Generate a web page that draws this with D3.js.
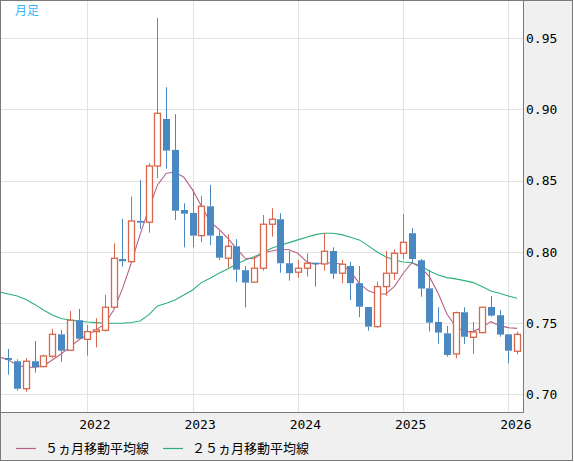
<!DOCTYPE html>
<html>
<head>
  <meta charset="utf-8">
  <script src="https://cdn.jsdelivr.net/npm/d3@7"></script>
  <style>
    body{margin:0;background:#fff;}
    svg{position:absolute;left:0;top:0;}
    .ax text{font-family:"DejaVu Sans Mono",monospace;font-size:13px;fill:#000;}
    .jp{font-family:"Noto Sans CJK JP",sans-serif;}
  </style>
</head>
<body>
<svg></svg>
<script type="text/javascript">
// monthly candles, 2021-03 .. 2026-02 (first month only feeds the moving averages)
var months = ["2021-03","2021-04","2021-05","2021-06","2021-07","2021-08","2021-09","2021-10","2021-11","2021-12",
  "2022-01","2022-02","2022-03","2022-04","2022-05","2022-06","2022-07","2022-08","2022-09","2022-10","2022-11","2022-12",
  "2023-01","2023-02","2023-03","2023-04","2023-05","2023-06","2023-07","2023-08","2023-09","2023-10","2023-11","2023-12",
  "2024-01","2024-02","2024-03","2024-04","2024-05","2024-06","2024-07","2024-08","2024-09","2024-10","2024-11","2024-12",
  "2025-01","2025-02","2025-03","2025-04","2025-05","2025-06","2025-07","2025-08","2025-09","2025-10","2025-11","2025-12",
  "2026-01","2026-02"];

var open = [null,0.7255,0.7232,0.7039,0.7232,0.7194,0.7267,0.7421,0.7309,0.7520,
  0.7386,0.7440,0.7449,0.7611,0.7950,0.7931,0.8217,0.8208,0.8603,0.8933,0.8716,0.8294,
  0.8273,0.8114,0.8320,0.8112,0.7955,0.8039,0.7871,0.7787,0.7885,0.8194,0.8229,0.7920,
  0.7857,0.7885,0.7924,0.7915,0.8006,0.7850,0.7901,0.7780,0.7613,0.7475,0.7756,0.7850,
  0.7990,0.8131,0.7941,0.7744,0.7508,0.7428,0.7283,0.7576,0.7400,0.7433,0.7613,0.7555,
  0.7421,0.7302];
var high = [null,0.7318,0.7246,0.7253,0.7374,0.7279,0.7459,0.7452,0.7585,0.7599,
  0.7487,0.7534,0.7697,0.8060,0.8231,0.8388,0.8505,0.8622,0.9643,0.9156,0.8966,0.8341,
  0.8435,0.8393,0.8470,0.8149,0.8124,0.8089,0.7901,0.7966,0.8259,0.8306,0.8271,0.8006,
  0.7943,0.7990,0.7924,0.8131,0.8032,0.7943,0.7931,0.7901,0.7613,0.7791,0.8008,0.8018,
  0.8266,0.8168,0.7950,0.7873,0.7611,0.7480,0.7580,0.7611,0.7508,0.7611,0.7690,0.7592,
  0.7421,0.7440];
var low = [null,0.7138,0.7025,0.7018,0.7152,0.7190,0.7255,0.7229,0.7309,0.7390,
  0.7271,0.7330,0.7440,0.7611,0.7896,0.7924,0.8161,0.8135,0.8517,0.8584,0.8224,0.8032,
  0.8032,0.8067,0.8048,0.7943,0.7889,0.7787,0.7611,0.7787,0.7868,0.8107,0.7854,0.7798,
  0.7819,0.7826,0.7756,0.7868,0.7810,0.7780,0.7662,0.7541,0.7447,0.7468,0.7692,0.7803,
  0.7948,0.7920,0.7685,0.7440,0.7355,0.7264,0.7253,0.7353,0.7283,0.7428,0.7545,0.7404,
  0.7218,0.7281];
var close = [null,0.7241,0.7039,0.7232,0.7190,0.7269,0.7421,0.7306,0.7520,0.7390,
  0.7440,0.7452,0.7611,0.7955,0.7934,0.8217,0.8205,0.8603,0.8973,0.8711,0.8289,0.8268,
  0.8114,0.8320,0.8114,0.7959,0.8039,0.7875,0.7784,0.7885,0.8194,0.8229,0.7920,0.7850,
  0.7885,0.7920,0.7915,0.8004,0.7847,0.7913,0.7780,0.7615,0.7475,0.7756,0.7850,0.7990,
  0.8067,0.7950,0.7742,0.7503,0.7433,0.7276,0.7573,0.7404,0.7437,0.7611,0.7552,0.7419,
  0.7306,0.7421];

// 5ヵ月 / 25ヵ月 moving averages
var ma5 = [0.7262,0.7241,0.7206,0.7190,0.7190,0.7199,0.7241,0.7283,0.7332,0.7381,
  0.7416,0.7452,0.7494,0.7592,0.7740,0.7920,0.8119,0.8299,0.8470,0.8552,0.8561,0.8524,
  0.8435,0.8322,0.8212,0.8159,0.8096,0.8025,0.7955,0.7952,0.7994,0.8006,0.8018,0.8015,
  0.7990,0.7931,0.7913,0.7922,0.7924,0.7913,0.7861,0.7780,0.7728,0.7704,0.7704,0.7756,
  0.7848,0.7924,0.7892,0.7826,0.7709,0.7564,0.7475,0.7440,0.7440,0.7470,0.7510,0.7482,
  0.7468,0.7463];
var ma25 = [0.7718,0.7704,0.7690,0.7666,0.7631,0.7592,0.7557,0.7532,0.7522,0.7515,
  0.7508,0.7503,0.7499,0.7499,0.7499,0.7504,0.7515,0.7557,0.7620,0.7639,0.7662,0.7697,
  0.7732,0.7784,0.7815,0.7850,0.7880,0.7913,0.7943,0.7965,0.7994,0.8025,0.8046,0.8065,
  0.8084,0.8103,0.8121,0.8131,0.8131,0.8121,0.8103,0.8084,0.8044,0.8001,0.7966,0.7943,
  0.7929,0.7924,0.7901,0.7866,0.7838,0.7819,0.7810,0.7798,0.7784,0.7756,0.7725,0.7709,
  0.7690,0.7674];

var yTicks = [0.70,0.75,0.80,0.85,0.90,0.95];
var legendNames = ["５ヵ月移動平均線","２５ヵ月移動平均線"];

var W = 574, H = 462;
var plotR = 523.5, plotB = 412.5;
var upCol = "#d8664a", downCol = "#4a88c2", ma5Col = "#b8628a", ma25Col = "#2db078";

var svg = d3.select("svg").attr("width", W).attr("height", H);

// outer panel
svg.append("rect").attr("x",0.5).attr("y",0.5).attr("width",572).attr("height",460)
  .attr("fill","#f0f0f0").attr("stroke","#7a7a7a");
svg.append("rect").attr("x",0.5).attr("y",0.5).attr("width",plotR-0.5).attr("height",plotB-0.5)
  .attr("fill","#fff");

var x = d3.scaleLinear().domain([0.1, 59.73]).range([0.5, plotR]);
var y = d3.scaleLinear().domain([0.6872, 0.9765]).range([plotB, 0.5]);

var janIdx = [];
months.forEach(function(m,i){ if (m.slice(5) === "01") janIdx.push(i); });

svg.append("clipPath").attr("id","plot").append("rect")
  .attr("x",0.5).attr("y",0.5).attr("width",plotR-0.5).attr("height",plotB-0.5);

// grid
var grid = svg.append("g").attr("stroke","#e2e2e2").attr("stroke-width",1);
grid.selectAll(".gy").data(yTicks).enter().append("line")
  .attr("x1",1).attr("x2",plotR).attr("y1",function(d){return Math.round(y(d))+0.5;})
  .attr("y2",function(d){return Math.round(y(d))+0.5;});
grid.selectAll(".gx").data(janIdx).enter().append("line")
  .attr("y1",1).attr("y2",plotB).attr("x1",function(d){return Math.round(x(d))+0.5;})
  .attr("x2",function(d){return Math.round(x(d))+0.5;});

var g = svg.append("g").attr("clip-path","url(#plot)");

// moving averages
function maLine(arr, col){
  var line = d3.line().x(function(d,i){return x(i);}).y(function(d){return y(d);});
  g.append("path").datum(arr).attr("d",line).attr("fill","none")
    .attr("stroke",col).attr("stroke-width",1.1);
}
maLine(ma25, ma25Col);
maLine(ma5, ma5Col);

// candles
var bw = 6;
var idx = d3.range(months.length).filter(function(i){return open[i] !== null;});
var c = g.selectAll(".c").data(idx).enter().append("g");
c.each(function(i){
  var s = d3.select(this), up = close[i] >= open[i];
  var col = up ? upCol : downCol;
  var cx = Math.round(x(i)) + 0.5;
  var top = y(Math.max(open[i],close[i])), bot = y(Math.min(open[i],close[i]));
  if (bot - top < 1.5) bot = top + 1.5;
  s.append("line").attr("x1",cx).attr("x2",cx).attr("y1",y(high[i])).attr("y2",top)
    .attr("stroke",col);
  s.append("line").attr("x1",cx).attr("x2",cx).attr("y1",bot).attr("y2",y(low[i]))
    .attr("stroke",col);
  if (up) {
    s.append("rect").attr("x",cx-bw/2).attr("y",top).attr("width",bw).attr("height",bot-top)
      .attr("fill","#fff").attr("stroke",col).attr("stroke-width",1.3);
  } else {
    s.append("rect").attr("x",cx-bw/2-0.5).attr("y",top).attr("width",bw+1).attr("height",bot-top)
      .attr("fill",col);
  }
});

// plot border (left/right/bottom/top)
svg.append("rect").attr("x",0.5).attr("y",0.5).attr("width",plotR-0.5).attr("height",plotB-0.5)
  .attr("fill","none").attr("stroke","#7a7a7a");

// axes labels
var ax = svg.append("g").attr("class","ax");
ax.selectAll(".yl").data(yTicks).enter().append("text")
  .attr("x",526).attr("y",function(d){return y(d);}).attr("dy","0.36em")
  .text(function(d){return d3.format(".2f")(d);});
ax.selectAll(".xl").data(janIdx).enter().append("text")
  .attr("x",function(d){return x(d)+7.5;}).attr("y",429).attr("text-anchor","middle")
  .text(function(d){return months[d].slice(0,4);});

svg.append("text").attr("class","jp").attr("x",15).attr("y",15)
  .attr("font-size","12px").attr("fill","#3ab2ff").text("月足");

// legend
var lg = svg.append("g");
[[16,45,ma5Col],[163,192,ma25Col]].forEach(function(p,k){
  lg.append("line").attr("x1",p[0]).attr("x2",p[0]+20).attr("y1",448.5).attr("y2",448.5)
    .attr("stroke",p[2]).attr("stroke-width",1.2);
  lg.append("text").attr("class","jp").attr("x",p[1]).attr("y",448).attr("dy","0.36em")
    .attr("font-size","13px").attr("fill","#000").text(legendNames[k]);
});
</script>
</body>
</html>
